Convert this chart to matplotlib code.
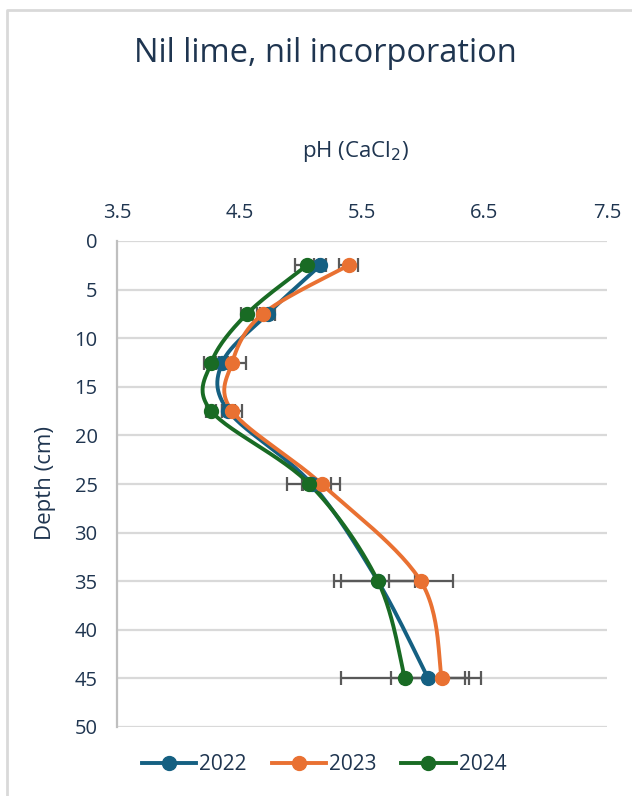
import numpy as np
import matplotlib.pyplot as plt
from matplotlib.lines import Line2D

# depth of each sample (cm)
depths = [2.5, 7.5, 12.5, 17.5, 25, 35, 45]

years = ["2022", "2023", "2024"]
ph_2022 = [5.16, 4.73, 4.36, 4.41, 5.09, 5.63, 6.04]
ph_2023 = [5.39, 4.69, 4.44, 4.44, 5.17, 5.98, 6.15]
ph_2024 = [5.05, 4.56, 4.27, 4.27, 5.07, 5.63, 5.85]

err_2022 = [0.05, 0.06, 0.05, 0.05, 0.08, 0.30, 0.30]
err_2023 = [0.08, 0.05, 0.11, 0.08, 0.15, 0.26, 0.32]
err_2024 = [0.10, 0.05, 0.06, 0.04, 0.18, 0.36, 0.52]

x_ticks = [3.5, 4.5, 5.5, 6.5, 7.5]
y_ticks = [0, 5, 10, 15, 20, 25, 30, 35, 40, 45, 50]

colors = ["#156082", "#E97132", "#196B24"]
text_color = "#1F3550"
grid_color = "#D9D9D9"

plt.rcParams['font.family'] = ['Open Sans', 'DejaVu Sans']


def smooth(ax, xs, ys, n=30):
    """Catmull-Rom curve through the points, computed in display space."""
    pts = ax.transData.transform(np.column_stack([xs, ys]))
    p = np.vstack([pts[0], pts, pts[-1]])
    out = []
    t = np.linspace(0, 1, n)[:, None]
    for i in range(1, len(p) - 2):
        p0, p1, p2, p3 = p[i - 1], p[i], p[i + 1], p[i + 2]
        seg = 0.5 * ((2 * p1) + (-p0 + p2) * t
                     + (2 * p0 - 5 * p1 + 4 * p2 - p3) * t ** 2
                     + (-p0 + 3 * p1 - 3 * p2 + p3) * t ** 3)
        out.append(seg)
    out = np.vstack(out)
    back = ax.transData.inverted().transform(out)
    return back[:, 0], back[:, 1]


fig = plt.figure(figsize=(6.32, 7.96), dpi=100)
ax = fig.add_axes([117 / 632, 1 - 727 / 796, 490 / 632, 486 / 796])

ax.set_xlim(3.5, 7.5)
ax.set_ylim(50, 0)

series = [(ph_2022, err_2022), (ph_2023, err_2023), (ph_2024, err_2024)]
for (vals, errs), c in zip(series, colors):
    ax.errorbar(vals, depths, xerr=errs, fmt='none', ecolor='#595959',
                elinewidth=1.6, capsize=5, capthick=1.6, zorder=2)

for (vals, errs), c in zip(series, colors):
    sx, sy = smooth(ax, vals, depths)
    ax.plot(sx, sy, color=c, lw=2.8, zorder=3, solid_capstyle='round')
    ax.plot(vals, depths, 'o', color=c, ms=10, zorder=4)

ax.set_xticks(x_ticks)
ax.set_yticks(y_ticks)
ax.xaxis.tick_top()
ax.tick_params(length=0, labelsize=14.5, labelcolor=text_color)
ax.tick_params(axis='x', pad=13)
ax.tick_params(axis='y', pad=14)
ax.grid(axis='y', color=grid_color, lw=1.6)
ax.set_axisbelow(True)
for s in ['top', 'right', 'bottom']:
    ax.spines[s].set_visible(False)
ax.spines['left'].set_color('#BFBFBF')
ax.spines['left'].set_linewidth(1.6)

fig.text(355 / 632, 1 - 152 / 796, 'pH (CaCl$_2$)', ha='center', va='center',
         fontsize=16, color=text_color)
fig.text(45 / 632, 1 - 483 / 796, 'Depth (cm)', ha='center', va='center',
         rotation=90, fontsize=16, color=text_color)
fig.text(325 / 632, 1 - 54 / 796, 'Nil lime, nil incorporation', ha='center',
         va='center', fontsize=23.5, color=text_color)

handles = [Line2D([], [], color=c, lw=2.8, marker='o', ms=10) for c in colors]
fig.legend(handles, years, loc='center', bbox_to_anchor=(324 / 632, 1 - 765 / 796),
           ncol=3, frameon=False, fontsize=15, handlelength=2.6,
           columnspacing=1.2, handletextpad=0.15, labelcolor=text_color)

# light outer frame of the chart area
fig.add_artist(Line2D([7 / 632, 7 / 632, 1], [0, 1 - 10 / 796, 1 - 10 / 796],
                      color=grid_color, lw=2, transform=fig.transFigure))

fig.savefig('out.png', dpi=100)
